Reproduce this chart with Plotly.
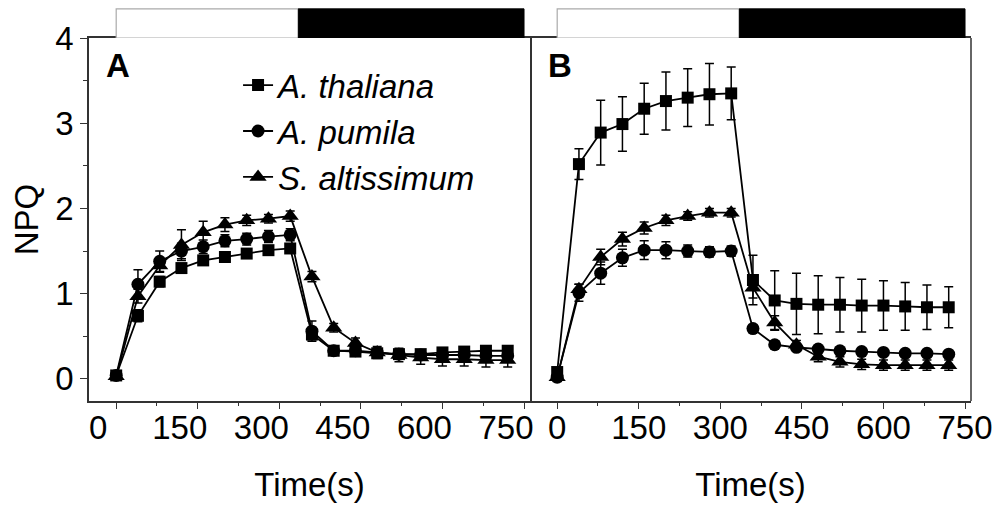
import plotly.graph_objects as go

# sampling times (s), same for both panels
time_s = [0, 40, 80, 120, 160, 200, 240, 280, 320, 360,
          400, 440, 480, 520, 560, 600, 640, 680, 720]

species = ["A. thaliana", "A. pumila", "S. altissimum"]
symbols = ["square", "circle", "triangle-up"]
marker_sizes = [12, 13, 15]

# panel A
a_thal = [0.04, 0.74, 1.14, 1.30, 1.39, 1.43, 1.47, 1.51, 1.53, 0.52,
          0.33, 0.32, 0.30, 0.29, 0.29, 0.31, 0.32, 0.33, 0.33]
a_thal_err = [0.03, 0.07, 0.06, 0.05, 0.05, 0.05, 0.05, 0.05, 0.05, 0.06,
              0.04, 0.03, 0.03, 0.03, 0.03, 0.03, 0.03, 0.04, 0.04]
a_pum = [0.04, 1.11, 1.38, 1.50, 1.55, 1.62, 1.64, 1.67, 1.69, 0.56,
         0.33, 0.33, 0.31, 0.29, 0.28, 0.28, 0.28, 0.27, 0.27]
a_pum_err = [0.03, 0.17, 0.12, 0.09, 0.08, 0.07, 0.07, 0.07, 0.07, 0.12,
             0.04, 0.04, 0.03, 0.03, 0.03, 0.03, 0.03, 0.03, 0.03]
a_alt = [0.03, 0.97, 1.33, 1.57, 1.72, 1.81, 1.86, 1.88, 1.91, 1.20,
         0.60, 0.42, 0.31, 0.28, 0.25, 0.23, 0.23, 0.22, 0.22]
a_alt_err = [0.04, 0.08, 0.08, 0.18, 0.13, 0.08, 0.06, 0.05, 0.06, 0.06,
             0.05, 0.06, 0.07, 0.08, 0.08, 0.08, 0.08, 0.08, 0.08]

# panel B
b_thal = [0.08, 2.52, 2.89, 2.99, 3.17, 3.26, 3.30, 3.34, 3.35, 1.16,
          0.92, 0.88, 0.87, 0.87, 0.86, 0.86, 0.85, 0.84, 0.84]
b_thal_err = [0.05, 0.18, 0.38, 0.32, 0.30, 0.34, 0.34, 0.36, 0.31, 0.29,
              0.35, 0.36, 0.34, 0.32, 0.31, 0.29, 0.28, 0.26, 0.24]
b_pum = [0.02, 1.01, 1.24, 1.42, 1.51, 1.51, 1.50, 1.49, 1.50, 0.59,
         0.40, 0.37, 0.35, 0.33, 0.32, 0.31, 0.30, 0.30, 0.29]
b_pum_err = [0.04, 0.10, 0.13, 0.10, 0.11, 0.10, 0.07, 0.06, 0.06, 0.04,
             0.04, 0.04, 0.03, 0.03, 0.03, 0.03, 0.03, 0.03, 0.03]
b_alt = [0.02, 1.05, 1.43, 1.64, 1.77, 1.86, 1.91, 1.95, 1.95, 1.07,
         0.66, 0.40, 0.26, 0.20, 0.17, 0.16, 0.16, 0.16, 0.16]
b_alt_err = [0.05, 0.06, 0.09, 0.08, 0.07, 0.06, 0.05, 0.05, 0.05, 0.12,
             0.08, 0.05, 0.06, 0.06, 0.06, 0.06, 0.06, 0.06, 0.06]

panel_a = [(a_thal, a_thal_err), (a_pum, a_pum_err), (a_alt, a_alt_err)]
panel_b = [(b_thal, b_thal_err), (b_pum, b_pum_err), (b_alt, b_alt_err)]

# light / dark periods (s) for the bar above each panel
light_on, light_off, dark_off = 0, 335, 750

x_ticks = [0, 150, 300, 450, 600, 750]
y_ticks = [0, 1, 2, 3, 4]

FONT = "Liberation Sans, Arial, sans-serif"
LINE = "#333333"

fig = go.Figure()

for panel, (xa, ya, show) in zip([panel_a, panel_b], [("x", "y", True), ("x2", "y2", False)]):
    for (vals, errs), name, sym, ms in zip(panel, species, symbols, marker_sizes):
        fig.add_trace(go.Scatter(
            x=time_s, y=vals, name=name, xaxis=xa, yaxis=ya,
            mode="lines+markers", showlegend=show, legendgroup=name,
            line=dict(color="black", width=1.8),
            marker=dict(symbol=sym, size=ms, color="black"),
            error_y=dict(type="data", array=errs, visible=True,
                         color="black", thickness=1.5, width=4.5),
        ))

# light/dark bars on thin strip axes above the panels
for xr, yr in [("x3", "y3"), ("x4", "y4")]:
    fig.add_shape(type="rect", xref=xr, yref=yr, x0=light_on, x1=light_off, y0=0, y1=1,
                  fillcolor="white", line=dict(color="#aaaaaa", width=1.2))
    fig.add_shape(type="rect", xref=xr, yref=yr, x0=light_off, x1=dark_off, y0=0, y1=1,
                  fillcolor="black", line=dict(color="black", width=1))

# page body adds an 8 px offset, margins are set with that in mind
main_top = 363 / 393
x_range = [-50, 761]
y_range = [-0.26, 4]

xcommon = dict(range=x_range, tickvals=x_ticks, ticks="outside", ticklen=6, tickwidth=1.3,
               tickcolor=LINE, showline=True, linecolor=LINE, linewidth=1.5, mirror=True,
               showgrid=False, zeroline=False, automargin=False, ticklabelstandoff=-9,
               minor=dict(dtick=75, tick0=0, ticks="outside", ticklen=3, tickcolor=LINE),
               tickfont=dict(family=FONT, size=33, color="black"),
               title=dict(text="Time(s)", font=dict(family=FONT, size=33, color="black"),
                          standoff=28))

fig.update_layout(
    width=1000, height=508,
    margin=dict(l=81, r=37, t=0, b=115, autoexpand=False),
    paper_bgcolor="white", plot_bgcolor="white",
    xaxis=dict(domain=[0, 0.5], anchor="y", ticklabelshift=-18, **xcommon),
    xaxis2=dict(domain=[0.5, 1], anchor="y2", **xcommon),
    yaxis=dict(domain=[0, main_top], anchor="x", range=y_range, tickvals=y_ticks,
               ticks="outside", ticklen=7, tickwidth=1.3, tickcolor=LINE,
               showline=True, linecolor=LINE, linewidth=1.5, mirror=True,
               showgrid=False, zeroline=False, automargin=False,
               minor=dict(dtick=0.5, tick0=0, ticks="outside", ticklen=4, tickcolor=LINE),
               tickfont=dict(family=FONT, size=33, color="black"),
               title=dict(text="NPQ", font=dict(family=FONT, size=33, color="black"),
                          standoff=14)),
    yaxis2=dict(domain=[0, main_top], anchor="x2", range=y_range, matches="y",
                showticklabels=False, ticks="", showline=False, automargin=False,
                showgrid=False, zeroline=False),
    xaxis3=dict(domain=[0, 0.5], anchor="y3", range=x_range, visible=False),
    yaxis3=dict(domain=[main_top, 1], anchor="x3", range=[0, 1.03], visible=False),
    xaxis4=dict(domain=[0.5, 1], anchor="y4", range=x_range, visible=False),
    yaxis4=dict(domain=[main_top, 1], anchor="x4", range=[0, 1.03], visible=False),
    legend=dict(x=0.169, y=0.875, xanchor="left", yanchor="top",
                bgcolor="rgba(0,0,0,0)", tracegroupgap=0,
                font=dict(family=FONT, size=33, color="black", style="italic")),
    showlegend=True,
)

for label, xr, yr, xpos in [("A", "x domain", "y domain", 0.066),
                            ("B", "x2 domain", "y2 domain", 0.068)]:
    fig.add_annotation(text="<b>%s</b>" % label, xref=xr, yref=yr, x=xpos, y=0.923,
                       xanchor="center", yanchor="middle", showarrow=False,
                       font=dict(family=FONT, size=33, color="black"))

# B's right edge (its left edge is A's mirrored right line)
fig.add_shape(type="line", xref="x2 domain", yref="y2 domain", x0=1, x1=1, y0=0, y1=1,
              line=dict(color=LINE, width=1.5))

fig.write_html("out.html")
